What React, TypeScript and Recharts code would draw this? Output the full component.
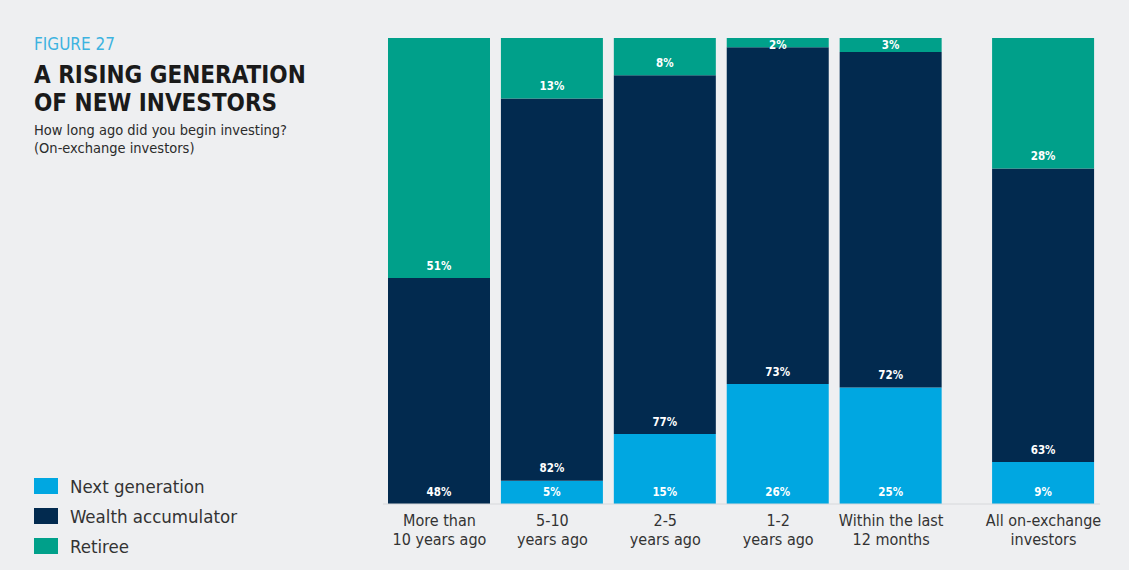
import React from 'react';
import { BarChart, Bar, XAxis, YAxis, LabelList } from 'recharts';

document.body.style.margin = '0';

// positions on a numeric x axis; the last bar sits a little apart
const positions = [0, 1, 2, 3, 4, 5.35];
const tickLines = [
  ['More than', '10 years ago'],
  ['5-10', 'years ago'],
  ['2-5', 'years ago'],
  ['1-2', 'years ago'],
  ['Within the last', '12 months'],
  ['All on-exchange', 'investors'],
];
const nextGeneration = [0, 5, 15, 26, 25, 9];
const wealthAccumulator = [48, 82, 77, 73, 72, 63];
const retiree = [51, 13, 8, 2, 3, 28];

const seriesNames = ['Next generation', 'Wealth accumulator', 'Retiree'];
const COLORS = ['#00a7e1', '#022a4f', '#00a08a'];
const BG = '#eeeff1';
const FONT = "'DejaVu Sans Condensed', 'Roboto', sans-serif";

const data = positions.map((x, i) => ({
  x,
  ng: nextGeneration[i],
  wa: wealthAccumulator[i],
  re: retiree[i],
}));

const SegLabel = (props: any) => {
  const { x, y, width, height, value } = props;
  const v = Number(value);
  if (!v) return null;
  const bottom = y + height;
  const cy = Math.max(bottom - 12, y + 7);
  return (
    <text
      x={x + width / 2}
      y={cy}
      textAnchor="middle"
      dominantBaseline="middle"
      fill="#ffffff"
      fontSize={11.5}
      fontWeight="bold"
      fontFamily={FONT}
    >
      {v}%
    </text>
  );
};

const Tick = (props: any) => {
  const { x, y, index } = props;
  const lines = tickLines[index] || [];
  return (
    <g>
      {lines.map((l, k) => (
        <text
          key={k}
          x={x}
          y={y + 14 + k * 19}
          textAnchor="middle"
          fill="#333"
          fontSize={16}
          fontFamily={FONT}
        >
          {l}
        </text>
      ))}
    </g>
  );
};

export default function App() {
  return (
    <div style={{ position: 'relative', width: 1129, height: 570, background: BG, fontFamily: FONT }}>
      <div style={{ position: 'absolute', left: 34, top: 35 }}>
        <div style={{ color: '#3db3e0', fontSize: 17, lineHeight: '18px' }}>FIGURE 27</div>
        <div style={{ color: '#1a1a1a', fontSize: 24, fontWeight: 'bold', lineHeight: '28px', marginTop: 8 }}>
          A RISING GENERATION
          <br />
          OF NEW INVESTORS
        </div>
        <div style={{ color: '#2b2b2b', fontSize: 14.5, lineHeight: '18px', marginTop: 4 }}>
          How long ago did you begin investing?
          <br />
          (On-exchange investors)
        </div>
      </div>

      <div style={{ position: 'absolute', left: 34, top: 471 }}>
        {seriesNames.map((n, i) => (
          <div key={n} style={{ display: 'flex', alignItems: 'center', height: 30 }}>
            <div style={{ width: 24, height: 16, background: COLORS[i], marginRight: 12 }} />
            <span style={{ color: '#333', fontSize: 18.5 }}>{n}</span>
          </div>
        ))}
      </div>

      <div style={{ position: 'absolute', left: 0, top: 0 }}>
        <BarChart
          width={1129}
          height={570}
          data={data}
          stackOffset="expand"
          margin={{ top: 38, right: 29, bottom: 0, left: 383 }}
        >
          <XAxis
            dataKey="x"
            type="number"
            domain={[-0.5, 5.85]}
            ticks={positions}
            tick={<Tick />}
            tickLine={false}
            axisLine={{ stroke: '#d6d8db' }}
            interval={0}
            height={66}
          />
          <YAxis hide domain={[0, 1]} />
          <Bar dataKey="ng" stackId="a" fill={COLORS[0]} barSize={102} isAnimationActive={false}>
            <LabelList dataKey="ng" content={<SegLabel />} />
          </Bar>
          <Bar dataKey="wa" stackId="a" fill={COLORS[1]} barSize={102} isAnimationActive={false}>
            <LabelList dataKey="wa" content={<SegLabel />} />
          </Bar>
          <Bar dataKey="re" stackId="a" fill={COLORS[2]} barSize={102} isAnimationActive={false}>
            <LabelList dataKey="re" content={<SegLabel />} />
          </Bar>
        </BarChart>
      </div>
    </div>
  );
}
